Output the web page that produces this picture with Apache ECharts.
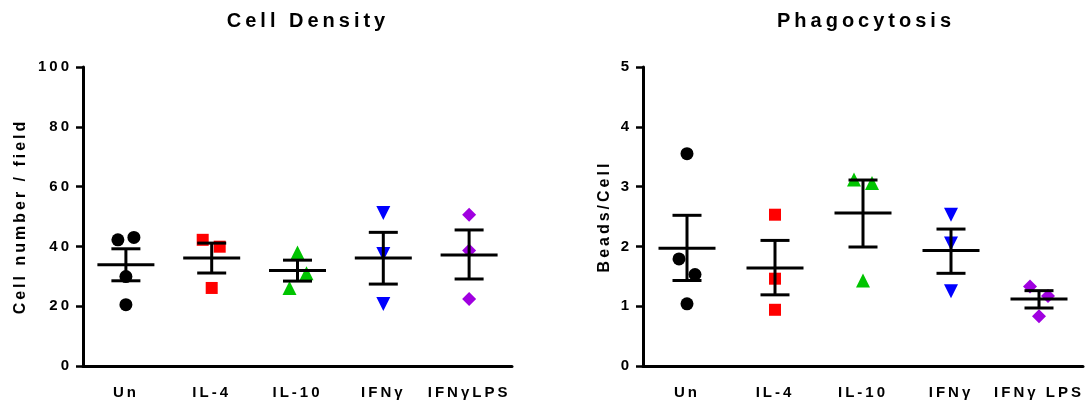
<!DOCTYPE html>
<html>
<head>
<meta charset="utf-8">
<script src="https://cdn.jsdelivr.net/npm/echarts@6/dist/echarts.min.js"></script>
<style>
  html, body { margin: 0; padding: 0; background: #fff; }
  #main { width: 1086px; height: 403px; }
</style>
</head>
<body>
<div id="main"></div>
<script>
// categories
const densityCategories = ['Un', 'IL-4', 'IL-10', 'IFNγ', 'IFNγLPS'];
const phagoCategories = ['Un', 'IL-4', 'IL-10', 'IFNγ', 'IFNγ LPS'];

// Cell Density - single points per group
const densityUn = [42.2, 43.0, 29.9, 20.5];
const densityIL4 = [42.2, 39.9, 26.1];
const densityIL10 = [38.0, 31.0, 26.1];
const densityIFNg = [51.2, 37.5, 20.7];
const densityIFNgLPS = [50.6, 38.6, 22.4];
// mean and SEM ends
const densityMean = [33.9, 36.1, 31.9, 36.1, 37.1];
const densitySemLow = [28.5, 31.1, 28.4, 27.4, 29.1];
const densitySemHigh = [39.2, 41.1, 35.4, 44.7, 45.5];

// Phagocytosis
const phagoUn = [3.55, 1.79, 1.53, 1.04];
const phagoIL4 = [2.53, 1.46, 0.94];
const phagoIL10 = [3.12, 3.06, 1.43];
const phagoIFNg = [2.53, 2.05, 1.25];
const phagoIFNgLPS = [1.33, 1.17, 0.83];
const phagoMean = [1.97, 1.64, 2.56, 1.93, 1.12];
const phagoSemLow = [1.43, 1.19, 1.99, 1.55, 0.97];
const phagoSemHigh = [2.52, 2.10, 3.11, 2.29, 1.26];

const densityTicks = [0, 20, 40, 60, 80, 100];
const phagoTicks = [0, 1, 2, 3, 4, 5];

// horizontal spread of overlapping points (px)
const densityJitter = [[-8, 8, 0, 0], [-9, 8, 0], [0, 9, -8], [0, 0, 0], [0, 0, 0]];
const phagoJitter = [[0, -8, 8, 0], [0, 0, 0], [-9, 9, 0], [0, 0, 0], [-9, 9, 0]];

// look of each group
const groupSymbols = ['circle', 'rect', 'triangle', 'triangle', 'diamond'];
const groupRotate = [0, 0, 0, 180, 0];
const groupSizes = [13, 12, 14, 14, 14];
const groupColors = ['#000000', '#ff0000', '#00c400', '#0000ff', '#a000e0'];

const FONT = '"Liberation Sans", Arial, sans-serif';

function pointSeries(idx, groups, jitter) {
  return groups.map(function (vals, g) {
    return {
      type: 'scatter',
      xAxisIndex: idx,
      yAxisIndex: idx,
      symbol: groupSymbols[g],
      symbolRotate: groupRotate[g],
      symbolSize: groupSizes[g],
      itemStyle: { color: groupColors[g], opacity: 1 },
      z: 2,
      data: vals.map(function (v, k) {
        return { value: [g, v], symbolOffset: [jitter[g][k], 0] };
      })
    };
  });
}

function renderMeanSem(params, api) {
  const x = api.value(0);
  const m = api.coord([x, api.value(1)]);
  const lo = api.coord([x, api.value(2)]);
  const hi = api.coord([x, api.value(3)]);
  const half = 28.5, cap = 14.5;
  const st = { stroke: '#000', lineWidth: 3 };
  return {
    type: 'group',
    children: [
      { type: 'line', shape: { x1: m[0] - half, y1: m[1], x2: m[0] + half, y2: m[1] }, style: st },
      { type: 'line', shape: { x1: m[0], y1: lo[1], x2: m[0], y2: hi[1] }, style: st },
      { type: 'line', shape: { x1: m[0] - cap, y1: lo[1], x2: m[0] + cap, y2: lo[1] }, style: st },
      { type: 'line', shape: { x1: m[0] - cap, y1: hi[1], x2: m[0] + cap, y2: hi[1] }, style: st }
    ]
  };
}

function barSeries(idx, mean, lo, hi) {
  return {
    type: 'custom',
    xAxisIndex: idx,
    yAxisIndex: idx,
    z: 5,
    renderItem: renderMeanSem,
    encode: { x: 0, y: [1, 2, 3] },
    data: mean.map(function (m, i) { return [i, m, lo[i], hi[i]]; })
  };
}

function xAxis(idx, cats) {
  return {
    type: 'category',
    gridIndex: idx,
    data: cats,
    boundaryGap: true,
    axisLine: { lineStyle: { color: '#000', width: 3 } },
    axisTick: { alignWithLabel: true, length: 7, lineStyle: { color: '#000', width: 3 } },
    axisLabel: { interval: 0, color: '#000', fontFamily: FONT, fontWeight: 'bold', fontSize: 15, margin: 19 },
    splitLine: { show: false }
  };
}

function yAxis(idx, ticks, name, gap) {
  return {
    type: 'value',
    gridIndex: idx,
    min: ticks[0],
    max: ticks[ticks.length - 1],
    interval: ticks[1] - ticks[0],
    name: name,
    nameLocation: 'middle',
    nameRotate: 90,
    nameGap: gap,
    nameTextStyle: { color: '#000', fontFamily: FONT, fontWeight: 'bold', fontSize: 16 },
    axisLine: { show: true, lineStyle: { color: '#000', width: 3 } },
    axisTick: { show: true, length: 7, lineStyle: { color: '#000', width: 2.5 } },
    axisLabel: { color: '#000', fontFamily: FONT, fontWeight: 'bold', fontSize: 15, margin: 11 },
    splitLine: { show: false }
  };
}

const chart = echarts.init(document.getElementById('main'));

const option = {
  animation: false,
  backgroundColor: '#fff',
  graphic: [
    { type: 'text', zlevel: 1, x: 308, y: 11, style: { text: 'Cell Density', font: 'bold 20px ' + FONT, fill: '#000', textAlign: 'center' } },
    { type: 'text', zlevel: 1, x: 866, y: 11, style: { text: 'Phagocytosis', font: 'bold 20px ' + FONT, fill: '#000', textAlign: 'center' } }
  ],
  grid: [
    { left: 83, top: 67, width: 429, height: 299 },
    { left: 643, top: 67, width: 440, height: 299 }
  ],
  xAxis: [xAxis(0, densityCategories), xAxis(1, phagoCategories)],
  yAxis: [yAxis(0, densityTicks, 'Cell number / field', 54), yAxis(1, phagoTicks, 'Beads/Cell', 30)],
  series: []
    .concat(pointSeries(0, [densityUn, densityIL4, densityIL10, densityIFNg, densityIFNgLPS], densityJitter))
    .concat(pointSeries(1, [phagoUn, phagoIL4, phagoIL10, phagoIFNg, phagoIFNgLPS], phagoJitter))
    .concat([barSeries(0, densityMean, densitySemLow, densitySemHigh),
             barSeries(1, phagoMean, phagoSemLow, phagoSemHigh)])
};

chart.setOption(option);

// the original text is widely letter-spaced; widen it on the canvas and repaint
try {
  const zr = chart.getZr();
  zr.flush();
  const layers = zr.painter.getLayers ? zr.painter.getLayers() : null;
  if (layers) {
    Object.keys(layers).forEach(function (k) {
      const ctx = layers[k].ctx || layers[k].dom.getContext('2d');
      ctx.letterSpacing = (+k === 1) ? '4px' : '3px';
    });
  } else {
    document.querySelectorAll('#main canvas').forEach(function (cv) {
      cv.getContext('2d').letterSpacing = '3px';
    });
  }
  zr.painter.refresh(true);
} catch (e) { }
</script>
</body>
</html>
